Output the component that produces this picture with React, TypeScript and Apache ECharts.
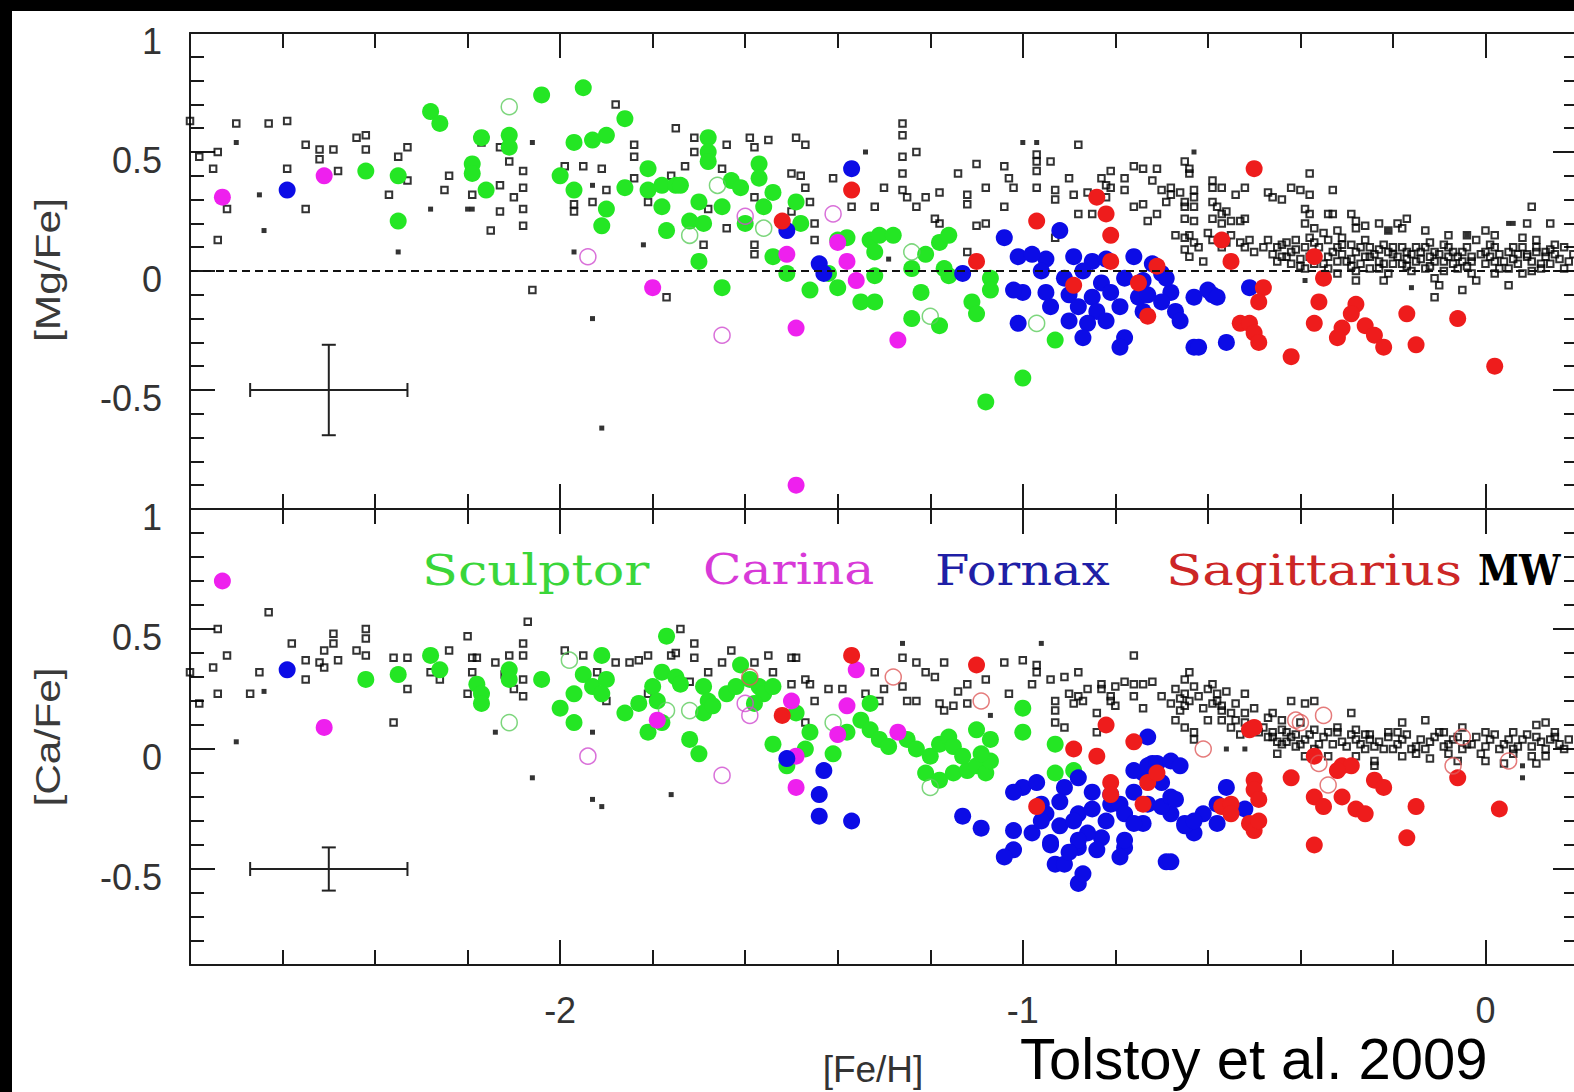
import React, { useEffect, useRef } from "react";
import * as echarts from "echarts";

// ---------- axis ranges & tick labels ----------
const X_MIN = -2.8;
const X_MAX = 0.2;
const MG_MIN = -1;
const MG_MAX = 1;
const CA_MIN = -0.9;
const CA_MAX = 1;
const xTickLabels = [-2, -1, 0];
const yTickLabels = [1, 0.5, 0, -0.5];
const yMajorTicks = [0.5, 0, -0.5];

// ---------- [Mg/Fe] panel ----------
const mgSculptor = [
  [-2.42, 0.42], [-2.35, 0.4], [-2.35, 0.21], [-2.28, 0.67], [-2.26, 0.62], [-2.04, 0.74], [-1.95, 0.77],
  [-2.17, 0.56], [-2.11, 0.57], [-2.11, 0.52], [-2.19, 0.45], [-2.19, 0.41], [-2.16, 0.34], [-2.0, 0.4],
  [-1.97, 0.34], [-1.97, 0.54], [-1.93, 0.55], [-1.9, 0.57], [-1.86, 0.64], [-1.9, 0.26], [-1.91, 0.19],
  [-1.86, 0.35], [-1.81, 0.43], [-1.81, 0.34], [-1.78, 0.36], [-1.75, 0.36], [-1.74, 0.36], [-1.78, 0.27],
  [-1.77, 0.17], [-1.68, 0.56], [-1.68, 0.5], [-1.68, 0.46], [-1.7, 0.29], [-1.72, 0.21], [-1.69, 0.2],
  [-1.7, 0.04], [-1.65, 0.27], [-1.65, -0.07], [-1.63, 0.38], [-1.61, 0.35], [-1.57, 0.45], [-1.57, 0.39],
  [-1.54, 0.33], [-1.49, 0.29], [-1.48, 0.2], [-1.54, 0.06], [-1.51, -0.01], [-1.46, -0.08], [-1.4, 0.13],
  [-1.38, 0.14], [-1.4, -0.07], [-1.42, -0.01], [-1.35, -0.13], [-1.32, -0.13], [-1.33, 0.13], [-1.31, 0.15],
  [-1.28, 0.15], [-1.32, 0.08], [-1.32, -0.02], [-1.24, 0.01], [-1.21, 0.07], [-1.22, -0.09], [-1.24, -0.2],
  [-1.18, -0.23], [-1.18, 0.12], [-1.16, 0.15], [-1.17, 0.01], [-1.16, -0.02], [-1.11, -0.13], [-1.1, -0.18],
  [-1.07, -0.03], [-1.07, -0.08], [-1.0, -0.45], [-1.08, -0.55], [-0.93, -0.29], [-1.6, 0.2], [-1.56, 0.27],
];
const mgSculptorOpen = [[-2.11, 0.69], [-1.66, 0.36], [-1.72, 0.15], [-1.56, 0.18], [-1.24, 0.08], [-1.2, -0.19], [-0.97, -0.22]];
const mgCarina = [[-2.73, 0.31], [-2.51, 0.4], [-1.8, -0.07], [-1.51, 0.07], [-1.4, 0.12], [-1.38, 0.04], [-1.36, -0.04], [-1.49, -0.24], [-1.27, -0.29], [-1.49, -0.9]];
const mgCarinaOpen = [[-1.94, 0.06], [-1.6, 0.23], [-1.41, 0.24], [-1.65, -0.27]];
const mgFornax = [
  [-2.59, 0.34], [-1.37, 0.43], [-1.51, 0.17], [-1.44, 0.03], [-1.43, -0.01], [-1.13, -0.01], [-1.04, 0.14],
  [-0.92, 0.17], [-1.01, 0.06], [-0.95, 0.05], [-0.89, 0.06], [-0.85, 0.04], [-0.82, 0.05], [-0.76, 0.06],
  [-0.72, 0.03], [-0.96, 0.0], [-0.91, -0.03], [-0.87, 0.0], [-0.83, -0.05], [-0.78, -0.03], [-0.74, -0.04],
  [-0.7, -0.01], [-1.0, -0.09], [-0.95, -0.09], [-0.9, -0.1], [-0.85, -0.11], [-0.81, -0.09], [-0.75, -0.11],
  [-0.68, -0.09], [-0.63, -0.11], [-0.59, -0.1], [-0.94, -0.15], [-0.88, -0.15], [-0.84, -0.17], [-0.79, -0.15],
  [-0.74, -0.17], [-0.9, -0.21], [-0.86, -0.22], [-0.82, -0.21], [-1.01, -0.22], [-0.78, -0.28], [-0.87, -0.28],
  [-0.79, -0.32], [-0.63, -0.32], [-0.56, -0.3], [-0.51, -0.07], [-1.02, -0.08], [-0.98, 0.07], [-0.67, -0.17],
  [-0.66, -0.21], [-0.7, -0.13], [-0.73, -0.1], [-0.69, -0.03], [-0.6, -0.08], [-0.58, -0.11], [-0.62, -0.32],
];
const mgSagittarius = [
  [-1.37, 0.34], [-1.52, 0.21], [-1.1, 0.04], [-0.97, 0.21], [-0.84, 0.31], [-0.82, 0.24], [-0.81, 0.15],
  [-0.81, 0.04], [-0.89, -0.06], [-0.5, 0.43], [-0.57, 0.13], [-0.55, 0.04], [-0.71, 0.02], [-0.75, -0.05],
  [-0.73, -0.19], [-0.48, -0.07], [-0.49, -0.13], [-0.53, -0.22], [-0.51, -0.22], [-0.5, -0.26], [-0.49, -0.3],
  [-0.42, -0.36], [-0.37, 0.06], [-0.35, -0.03], [-0.36, -0.13], [-0.37, -0.22], [-0.28, -0.14], [-0.29, -0.18],
  [-0.31, -0.24], [-0.32, -0.28], [-0.26, -0.23], [-0.24, -0.27], [-0.22, -0.32], [-0.17, -0.18], [-0.15, -0.31],
  [-0.06, -0.2], [0.02, -0.4],
];
const mgMW = [
  [-2.7, 0.62], [-2.63, 0.62], [-2.59, 0.63], [-2.8, 0.63], [-2.74, 0.5], [-2.78, 0.48], [-2.75, 0.43], [-2.72, 0.26],
  [-2.74, 0.13], [-2.55, 0.53], [-2.59, 0.43], [-2.55, 0.26], [-2.52, 0.51], [-2.49, 0.51], [-2.52, 0.47], [-2.48, 0.42],
  [-2.44, 0.56], [-2.42, 0.57], [-2.42, 0.51], [-2.37, 0.32], [-2.35, 0.48], [-2.33, 0.52], [-2.33, 0.38], [-2.25, 0.34],
  [-2.24, 0.4], [-2.19, 0.32], [-2.17, 0.54], [-2.13, 0.52], [-2.11, 0.46], [-2.13, 0.36], [-2.08, 0.42], [-2.08, 0.35],
  [-2.1, 0.31], [-2.08, 0.26], [-2.13, 0.25], [-2.15, 0.17], [-2.08, 0.19], [-2.06, -0.08], [-1.99, 0.44], [-1.95, 0.44],
  [-1.91, 0.43], [-1.9, 0.34], [-1.93, 0.29], [-1.97, 0.28], [-1.97, 0.25], [-1.88, 0.7], [-1.84, 0.53], [-1.84, 0.48],
  [-1.84, 0.39], [-1.81, 0.29],
  [-1.75, 0.6], [-1.71, 0.56], [-1.71, 0.5], [-1.64, 0.53], [-1.59, 0.56], [-1.58, 0.52], [-1.55, 0.55], [-1.49, 0.56],
  [-1.47, 0.53], [-1.65, 0.43], [-1.73, 0.44], [-1.76, 0.4], [-1.68, 0.26], [-1.64, 0.18], [-1.69, 0.11], [-1.58, 0.11],
  [-1.58, 0.07], [-1.58, 0.31], [-1.5, 0.41], [-1.48, 0.4], [-1.47, 0.35], [-1.5, 0.25], [-1.45, 0.2], [-1.45, 0.13],
  [-1.41, 0.39], [-1.46, 0.29], [-1.37, 0.27], [-1.32, 0.27], [-1.3, 0.35], [-1.26, 0.62], [-1.26, 0.57], [-1.26, 0.48],
  [-1.26, 0.41], [-1.26, 0.34], [-1.23, 0.5], [-1.25, 0.31], [-1.23, 0.27], [-1.21, 0.31], [-1.18, 0.33], [-1.19, 0.22],
  [-1.18, 0.2], [-1.14, 0.41], [-1.12, 0.32], [-1.12, 0.28], [-1.1, 0.45], [-1.1, 0.19], [-1.08, 0.2], [-1.08, 0.35],
  [-1.12, 0.08], [-1.04, 0.44], [-1.03, 0.39], [-1.02, 0.35], [-1.04, 0.27], [-0.97, 0.49], [-0.97, 0.46], [-0.94, 0.46],
  [-0.88, 0.53], [-0.97, 0.42], [-0.97, 0.35], [-0.93, 0.34], [-0.93, 0.3], [-0.9, 0.39], [-0.88, 0.24], [-0.89, 0.32],
  [-0.86, 0.33], [-0.83, 0.39], [-0.81, 0.42], [-0.85, 0.24], [-0.93, 0.14], [-0.81, 0.35], [-0.82, 0.31], [-1.77, -0.11],
  [-0.65, 0.46], [-0.64, 0.43], [-0.64, 0.41], [-0.82, 0.36], [-0.78, 0.39], [-0.78, 0.34], [-0.76, 0.44],
  [-0.74, 0.43], [-0.71, 0.43], [-0.72, 0.38], [-0.76, 0.27], [-0.74, 0.28], [-0.71, 0.24], [-0.73, 0.21], [-0.7, 0.34],
  [-0.68, 0.35], [-0.68, 0.32], [-0.69, 0.29], [-0.66, 0.33], [-0.65, 0.29], [-0.65, 0.27], [-0.63, 0.34], [-0.63, 0.31],
  [-0.63, 0.27], [-0.65, 0.22], [-0.63, 0.21], [-0.59, 0.38], [-0.59, 0.35], [-0.57, 0.35], [-0.59, 0.29], [-0.58, 0.27],
  [-0.59, 0.22], [-0.57, 0.24], [-0.56, 0.25], [-0.55, 0.21], [-0.53, 0.21], [-0.52, 0.22], [-0.57, 0.2], [-0.54, 0.32],
  [-0.52, 0.35], [-0.47, 0.33], [-0.46, 0.31], [-0.44, 0.3], [-0.42, 0.35], [-0.4, 0.34], [-0.38, 0.41], [-0.38, 0.32],
  [-0.33, 0.34], [-0.39, 0.26], [-0.38, 0.24], [-0.34, 0.24], [-0.33, 0.24], [-0.29, 0.24], [-0.28, 0.21], [-0.26, 0.19],
  [-0.23, 0.2], [-0.19, 0.2], [-0.17, 0.22], [0.1, 0.27], [0.14, 0.2], [0.09, 0.2],
  [-0.67, 0.15], [-0.65, 0.14], [-0.64, 0.15], [-0.63, 0.12], [-0.65, 0.09], [-0.64, 0.06], [-0.62, 0.1], [-0.61, 0.04],
  [-0.6, 0.16], [-0.59, 0.13], [-0.57, 0.1], [-0.56, 0.12], [-0.55, 0.15], [-0.53, 0.12], [-0.52, 0.1], [-0.51, 0.13],
  [-0.5, 0.08], [-0.48, 0.1],
  [-0.47, 0.13], [-0.45, 0.1], [-0.44, 0.11], [-0.42, 0.08], [-0.41, 0.13], [-0.39, 0.1], [-0.38, 0.14], [-0.37, 0.12],
  [-0.35, 0.16], [-0.34, 0.13], [-0.32, 0.1], [-0.31, 0.14], [-0.29, 0.11], [-0.28, 0.08], [-0.26, 0.13], [-0.25, 0.1],
  [-0.24, 0.07], [-0.22, 0.11], [-0.21, 0.08], [-0.19, 0.06], [-0.18, 0.1], [-0.16, 0.07], [-0.15, 0.04], [-0.13, 0.1],
  [-0.12, 0.06], [-0.11, 0.08], [-0.09, 0.04], [-0.08, 0.1], [-0.06, 0.06], [-0.05, 0.08], [-0.03, 0.04], [-0.02, 0.13],
  [0.0, 0.08], [0.01, 0.06], [0.02, 0.1], [0.04, 0.04], [0.05, 0.08], [0.07, 0.07], [0.08, 0.1], [0.1, 0.04],
  [0.11, 0.08], [0.13, 0.06], [0.14, 0.03], [0.15, 0.07], [0.18, 0.04],
  [-0.45, 0.04], [-0.42, 0.03], [-0.39, 0.01], [-0.37, 0.03], [-0.34, 0.01], [-0.32, 0.04], [-0.29, 0.02], [-0.28, 0.0],
  [-0.25, 0.01], [-0.22, 0.03], [-0.21, -0.01], [-0.18, 0.03], [-0.16, 0.0], [-0.13, 0.01], [-0.11, -0.03], [-0.09, 0.0],
  [-0.06, 0.01], [-0.03, -0.01], [-0.02, -0.04], [0.0, 0.03], [0.02, -0.01], [0.05, 0.01], [0.08, -0.01], [0.1, 0.0],
  [0.12, 0.01],
  [-0.32, -0.01], [-0.28, -0.04], [-0.22, -0.04], [-0.1, -0.06], [-0.05, -0.08], [0.05, -0.06], [-0.11, -0.11],
  [-0.39, 0.2], [-0.37, 0.18], [-0.32, 0.17], [-0.28, 0.18], [-0.21, 0.17], [-0.18, 0.18], [-0.13, 0.17], [-0.08, 0.15],
  [-0.04, 0.15], [0.0, 0.17], [0.02, 0.15], [0.08, 0.14], [0.11, 0.13], [0.15, 0.11],
  [-0.46, 0.07], [-0.43, 0.06], [-0.4, 0.05], [-0.37, 0.07], [-0.34, 0.06], [-0.31, 0.07], [-0.29, 0.05], [-0.26, 0.06],
  [-0.23, 0.04], [-0.2, 0.07], [-0.17, 0.05], [-0.14, 0.08], [-0.11, 0.04], [-0.08, 0.06], [-0.05, 0.04], [-0.03, 0.06],
  [0.02, 0.04], [0.06, 0.05], [0.09, 0.07], [0.13, 0.08], [0.17, 0.1],
  [-0.44, 0.06], [-0.43, 0.12], [-0.41, 0.09], [-0.4, 0.02], [-0.38, 0.06], [-0.36, 0.1], [-0.35, 0.03], [-0.33, 0.08],
  [-0.31, 0.11], [-0.3, 0.04], [-0.27, 0.1], [-0.27, 0.03], [-0.25, 0.06], [-0.23, 0.09], [-0.23, 0.01], [-0.2, 0.1],
  [-0.2, 0.03], [-0.17, 0.08], [-0.17, 0.02], [-0.15, 0.1], [-0.14, 0.05], [-0.12, 0.12], [-0.12, 0.02], [-0.1, 0.07],
  [-0.09, 0.11], [-0.07, 0.03], [-0.07, 0.08], [-0.04, 0.1], [-0.04, 0.02], [-0.01, 0.07], [0.01, 0.11], [0.03, 0.07],
  [0.03, 0.01], [0.06, 0.1], [0.07, 0.03], [0.09, 0.06], [0.11, 0.1], [0.12, 0.03], [0.14, 0.09], [0.16, 0.05],
  [0.17, 0.01], [0.19, 0.07],
];
const mgMWFilled = [
  [-2.7, 0.54], [-2.65, 0.32], [-2.64, 0.17], [-2.35, 0.08], [-2.28, 0.26], [-2.2, 0.26], [-2.19, 0.26], [-2.06, 0.54],
  [-1.93, 0.36], [-1.97, 0.08], [-1.82, 0.11], [-1.93, -0.2], [-1.91, -0.66], [-1.29, 0.05], [-1.0, 0.54], [-0.97, 0.54],
  [-1.34, 0.5], [-0.16, -0.07], [-0.21, 0.17], [-0.04, 0.15], [0.05, 0.2], [0.06, 0.2], [-0.39, -0.04], [-0.63, 0.5],
];
const mgErrorBar = [[-2.5, -0.5, 0.17, 0.19]];

// ---------- [Ca/Fe] panel ----------
const caSculptor = [
  [-2.42, 0.29], [-2.35, 0.31], [-2.28, 0.39], [-2.26, 0.33], [-2.18, 0.27], [-2.17, 0.23], [-2.17, 0.19],
  [-2.11, 0.33], [-2.11, 0.29], [-2.04, 0.29], [-2.0, 0.17], [-1.97, 0.23], [-1.97, 0.11], [-1.95, 0.31],
  [-1.93, 0.26], [-1.91, 0.39], [-1.9, 0.29], [-1.91, 0.23], [-1.86, 0.15], [-1.83, 0.19], [-1.81, 0.07],
  [-1.8, 0.26], [-1.77, 0.47], [-1.78, 0.32], [-1.75, 0.3], [-1.74, 0.27], [-1.79, 0.2], [-1.78, 0.11],
  [-1.72, 0.04], [-1.7, -0.02], [-1.69, 0.26], [-1.68, 0.2], [-1.69, 0.15], [-1.67, 0.18], [-1.64, 0.23],
  [-1.62, 0.26], [-1.61, 0.35], [-1.59, 0.29], [-1.57, 0.26], [-1.56, 0.23], [-1.54, 0.26], [-1.58, 0.19],
  [-1.54, 0.02], [-1.51, -0.07], [-1.49, 0.15], [-1.46, 0.07], [-1.47, 0.0], [-1.41, -0.02], [-1.35, 0.12],
  [-1.33, 0.08], [-1.31, 0.04], [-1.29, 0.01], [-1.33, 0.19], [-1.38, 0.07], [-1.25, 0.04], [-1.23, 0.0],
  [-1.2, -0.03], [-1.18, 0.02], [-1.16, 0.05], [-1.15, 0.01], [-1.21, -0.1], [-1.18, -0.13], [-1.15, -0.1],
  [-1.12, -0.09], [-1.1, -0.07], [-1.08, -0.1], [-1.07, -0.05], [-1.13, -0.03], [-1.1, 0.08], [-1.07, 0.04],
  [-1.09, -0.02], [-1.0, 0.17], [-1.0, 0.07], [-0.93, 0.02], [-0.93, -0.1], [-0.89, -0.09],
];
const caSculptorOpen = [[-2.11, 0.11], [-1.98, 0.37], [-1.77, 0.16], [-1.72, 0.16], [-1.41, 0.11], [-1.2, -0.16]];
const caCarina = [[-2.73, 0.7], [-2.51, 0.09], [-1.79, 0.12], [-1.36, 0.33], [-1.5, 0.2], [-1.38, 0.18], [-1.4, 0.06], [-1.27, 0.07], [-1.49, -0.16], [-1.49, -0.03]];
const caCarinaOpen = [[-1.94, -0.03], [-1.6, 0.19], [-1.59, 0.14], [-1.65, -0.11]];
const caFornax = [
  [-2.59, 0.33], [-1.51, -0.04], [-1.43, -0.09], [-1.44, -0.19], [-1.44, -0.28], [-1.37, -0.3], [-1.13, -0.28],
  [-1.09, -0.33], [-1.02, -0.34], [-1.02, -0.42], [-1.04, -0.45], [-0.93, -0.48], [-0.88, -0.56], [-0.88, -0.12],
  [-1.0, -0.16], [-0.97, -0.14], [-1.02, -0.18], [-0.96, -0.23], [-0.91, -0.16], [-0.88, -0.27], [-0.85, -0.18],
  [-0.81, -0.23], [-0.76, -0.18], [-0.74, -0.1], [-0.72, -0.06], [-0.7, -0.14], [-0.68, -0.27], [-0.65, -0.31],
  [-0.61, -0.27], [-0.58, -0.23], [-0.63, -0.35], [-0.98, -0.35], [-0.94, -0.39], [-0.88, -0.41], [-0.83, -0.37],
  [-0.78, -0.41], [-0.74, -0.31], [-0.91, -0.48], [-0.87, -0.52], [-0.69, -0.47], [-0.76, -0.09], [-0.73, -0.07],
  [-0.71, -0.06], [-0.68, -0.05], [-0.66, -0.07], [-0.81, -0.19], [-0.79, -0.23], [-0.78, -0.27], [-0.76, -0.31],
  [-0.78, -0.38], [-0.79, -0.45], [-0.73, -0.23], [-0.7, -0.24], [-0.68, -0.2], [-0.67, -0.21], [-0.65, -0.32],
  [-0.63, -0.3], [-0.58, -0.31], [-0.56, -0.16], [-0.52, -0.25], [-0.68, -0.47], [-0.73, 0.05], [-0.95, -0.27],
  [-0.92, -0.32], [-0.89, -0.3], [-0.86, -0.35], [-0.88, -0.38], [-0.84, -0.42], [-0.82, -0.3], [-0.9, -0.43],
  [-0.94, -0.4], [-0.96, -0.3], [-0.85, -0.25], [-0.92, -0.22],
];
const caSagittarius = [
  [-1.37, 0.39], [-1.52, 0.14], [-1.1, 0.35], [-0.89, 0.0], [-0.84, -0.03], [-0.82, 0.1], [-0.81, -0.14],
  [-0.81, -0.19], [-0.97, -0.24], [-0.76, 0.03], [-0.73, -0.14], [-0.71, -0.1], [-0.74, -0.23], [-0.57, -0.24],
  [-0.55, -0.23], [-0.55, -0.27], [-0.5, -0.13], [-0.5, -0.17], [-0.49, -0.21], [-0.51, -0.31], [-0.5, -0.34],
  [-0.49, -0.3], [-0.51, 0.08], [-0.5, 0.09], [-0.42, -0.12], [-0.37, -0.03], [-0.31, -0.07], [-0.29, -0.07],
  [-0.32, -0.09], [-0.37, -0.2], [-0.35, -0.24], [-0.31, -0.2], [-0.28, -0.25], [-0.26, -0.27], [-0.24, -0.13],
  [-0.22, -0.16], [-0.15, -0.24], [-0.17, -0.37], [-0.37, -0.4], [-0.06, -0.12], [0.03, -0.25],
];
const caSagittariusOpen = [
  [-1.59, 0.3], [-1.28, 0.3], [-1.09, 0.2], [-0.61, 0.0], [-0.35, 0.14], [-0.36, -0.06], [-0.34, -0.15],
  [-0.05, 0.05], [-0.07, -0.07], [0.05, -0.05], [-0.4, 0.11], [-0.41, 0.12],
];
const caMW = [
  [-2.63, 0.57], [-2.74, 0.5], [-2.72, 0.39], [-2.75, 0.34], [-2.8, 0.32], [-2.65, 0.32], [-2.74, 0.23], [-2.67, 0.23],
  [-2.78, 0.19], [-2.58, 0.44], [-2.55, 0.37], [-2.55, 0.29], [-2.51, 0.41], [-2.49, 0.48], [-2.49, 0.44], [-2.52, 0.36],
  [-2.48, 0.37], [-2.51, 0.34], [-2.44, 0.41], [-2.42, 0.5], [-2.42, 0.46], [-2.42, 0.39], [-2.36, 0.38], [-2.33, 0.38],
  [-2.33, 0.25], [-2.36, 0.11], [-2.28, 0.32], [-2.26, 0.29], [-2.24, 0.41], [-2.2, 0.47], [-2.19, 0.38], [-2.18, 0.38],
  [-2.19, 0.32], [-2.2, 0.23], [-2.14, 0.36], [-2.12, 0.31], [-2.11, 0.39], [-2.08, 0.39], [-2.08, 0.44], [-2.08, 0.29],
  [-2.1, 0.25], [-2.08, 0.22], [-2.07, 0.53], [-1.99, 0.41], [-1.95, 0.39], [-1.92, 0.32], [-1.9, 0.2], [-1.88, 0.36],
  [-1.85, 0.36], [-1.83, 0.37], [-1.81, 0.39], [-1.81, 0.23],
  [-1.74, 0.5], [-1.76, 0.39], [-1.75, 0.4], [-1.71, 0.44], [-1.71, 0.38], [-1.72, 0.28], [-1.65, 0.36], [-1.63, 0.41],
  [-1.68, 0.32], [-1.58, 0.36], [-1.55, 0.39], [-1.54, 0.32], [-1.5, 0.38], [-1.49, 0.38], [-1.5, 0.27], [-1.47, 0.29],
  [-1.46, 0.27], [-1.45, 0.2], [-1.47, 0.11], [-1.42, 0.25], [-1.39, 0.25], [-1.32, 0.32], [-1.34, 0.23], [-1.31, 0.2],
  [-1.3, 0.25], [-1.26, 0.38], [-1.23, 0.36], [-1.26, 0.26], [-1.25, 0.2], [-1.23, 0.2], [-1.21, 0.32], [-1.19, 0.3],
  [-1.17, 0.36], [-1.18, 0.19], [-1.17, 0.16], [-1.15, 0.18], [-1.12, 0.19], [-1.14, 0.24], [-1.12, 0.27], [-1.08, 0.29],
  [-1.04, 0.36], [-1.0, 0.37], [-1.03, 0.23], [-0.97, 0.35], [-0.97, 0.32], [-0.98, 0.27], [-0.94, 0.29], [-0.91, 0.3],
  [-0.88, 0.32], [-0.93, 0.2], [-0.9, 0.23], [-0.88, 0.22], [-0.86, 0.25], [-0.83, 0.25], [-0.81, 0.22], [-0.93, 0.16],
  [-0.93, 0.11], [-0.91, 0.09], [-0.89, 0.19], [-0.87, 0.2], [-0.84, 0.15], [-0.81, 0.2], [-0.84, 0.07],
  [-0.76, 0.39], [-0.83, 0.27], [-0.8, 0.26], [-0.78, 0.28], [-0.76, 0.27], [-0.74, 0.27], [-0.72, 0.28], [-0.76, 0.22],
  [-0.7, 0.22], [-0.8, 0.18], [-0.74, 0.17], [-0.65, 0.29], [-0.64, 0.32], [-0.63, 0.26], [-0.65, 0.23], [-0.64, 0.2],
  [-0.59, 0.27], [-0.58, 0.23], [-0.59, 0.19], [-0.57, 0.16], [-0.57, 0.12], [-0.68, 0.19], [-0.66, 0.16], [-0.67, 0.12],
  [-0.65, 0.09], [-0.63, 0.07], [-0.63, 0.04], [-0.55, 0.15], [-0.54, 0.12], [-0.52, 0.23], [-0.52, 0.15], [-0.48, 0.09],
  [-0.46, 0.15], [-0.44, 0.12], [-0.42, 0.2], [-0.39, 0.19], [-0.37, 0.2], [-0.29, 0.15],
  [-0.67, 0.25], [-0.66, 0.21], [-0.65, 0.18], [-0.62, 0.22], [-0.61, 0.17], [-0.6, 0.25], [-0.6, 0.12], [-0.58, 0.2],
  [-0.57, 0.18], [-0.56, 0.24], [-0.55, 0.09], [-0.54, 0.19], [-0.53, 0.06], [-0.52, 0.11], [-0.5, 0.17], [-0.49, 0.07],
  [-0.47, 0.13], [-0.46, 0.05], [-0.44, 0.08], [-0.43, 0.03], [-0.41, 0.06], [-0.4, 0.11],
  [-0.47, 0.05], [-0.44, 0.02], [-0.42, 0.05], [-0.41, 0.01], [-0.39, 0.04], [-0.37, 0.0], [-0.35, 0.05], [-0.33, 0.02],
  [-0.32, 0.07], [-0.3, 0.01], [-0.28, 0.04], [-0.26, 0.0], [-0.25, 0.04], [-0.24, 0.01], [-0.21, 0.05], [-0.2, 0.0],
  [-0.18, 0.04], [-0.16, 0.0], [-0.14, 0.04], [-0.13, 0.0], [-0.11, 0.05], [-0.09, 0.01], [-0.07, 0.04], [-0.05, 0.0],
  [-0.03, 0.02], [-0.01, -0.02], [0.01, 0.04], [0.03, 0.0], [0.04, 0.02], [0.06, -0.02], [0.08, 0.04], [0.1, 0.01],
  [0.11, 0.05], [0.13, 0.0], [0.14, 0.04], [0.16, 0.02],
  [-0.45, -0.02], [-0.39, -0.03], [-0.34, -0.03], [-0.28, -0.03], [-0.24, -0.05], [-0.18, -0.03], [-0.12, -0.04],
  [-0.06, -0.05], [0.0, -0.05], [0.04, -0.06], [0.11, -0.06], [0.13, -0.03], [-0.24, -0.07],
  [-0.18, 0.11], [-0.13, 0.12], [-0.05, 0.09], [0.11, 0.1], [0.13, 0.11], [-0.32, 0.09], [-0.28, 0.08], [-0.21, 0.07],
  [-0.46, 0.07], [-0.37, 0.08], [-0.26, 0.06], [-0.19, 0.07], [-0.09, 0.07], [0.0, 0.07], [0.06, 0.07], [0.15, 0.07],
  [-0.45, 0.03], [-0.43, 0.07], [-0.4, 0.02], [-0.38, 0.06], [-0.36, 0.02], [-0.34, 0.07], [-0.31, 0.03], [-0.29, 0.06],
  [-0.27, 0.02], [-0.25, 0.06], [-0.23, 0.03], [-0.22, 0.0], [-0.19, 0.02], [-0.17, 0.06], [-0.15, 0.01], [-0.12, 0.03],
  [-0.1, 0.07], [-0.08, 0.02], [-0.06, 0.05], [-0.04, 0.02], [-0.02, 0.05], [0.0, 0.01], [0.02, 0.06], [0.05, 0.04],
  [0.07, 0.01], [0.09, 0.06], [0.12, 0.03], [0.15, 0.05], [0.17, 0.0], [0.18, 0.04], [-0.15, -0.02], [-0.08, -0.02],
  [0.06, 0.0], [0.1, -0.03],
];
const caMWFilled = [
  [-2.7, 0.03], [-2.64, 0.24], [-2.14, 0.07], [-2.06, -0.12], [-1.93, -0.21], [-1.91, -0.24], [-1.93, 0.07],
  [-1.76, -0.19], [-0.52, 0.0], [-0.56, 0.0], [-1.07, 0.14], [0.08, -0.07], [0.08, -0.12], [-1.26, 0.44], [-0.96, 0.44],
];
const caErrorBar = [[-2.5, -0.5, 0.17, 0.09]];

// ---------- colours / legend ----------
const C_SCL = "#24e624";
const C_CAR = "#ee20ee";
const C_FOR = "#0c0ce6";
const C_SAG = "#ee1c1c";
const legendItems = [
  { name: "Sculptor", color: "#3ad63a", x: 422, sx: 1.25, bold: false },
  { name: "Carina", color: "#d83ad8", x: 703, sx: 1.2, bold: false },
  { name: "Fornax", color: "#1f1fa6", x: 935, sx: 1.18, bold: false },
  { name: "Sagittarius", color: "#cc2626", x: 1166, sx: 1.26, bold: false },
  { name: "MW", color: "#000000", x: 1478, sx: 0.88, bold: true },
];

function stepValues(a: number, b: number, step: number) {
  const out: number[] = [];
  const n = Math.round((b - a) / step);
  for (let k = 1; k < n; k++) out.push(Math.round((a + k * step) * 10) / 10);
  return out;
}

const AXIS_LINE = { color: "#1a1a1a", width: 2 };
const LABEL_FONT = "Liberation Sans";

function xAx(gridIndex: number, position: string, ticks: number[], len: number, showLine: boolean, labels?: number[]) {
  return {
    type: "value", gridIndex, position, min: X_MIN, max: X_MAX,
    axisLine: { show: showLine, onZero: false, lineStyle: AXIS_LINE },
    axisTick: { show: true, inside: true, length: len, customValues: ticks, lineStyle: AXIS_LINE },
    axisLabel: labels
      ? { show: true, customValues: labels, margin: 27, fontSize: 36, fontFamily: LABEL_FONT, color: "#333" }
      : { show: false },
    splitLine: { show: false },
  };
}
function yAx(gridIndex: number, position: string, min: number, max: number, ticks: number[], len: number, showLine: boolean, labels?: number[]) {
  return {
    type: "value", gridIndex, position, min, max,
    axisLine: { show: showLine, onZero: false, lineStyle: AXIS_LINE },
    axisTick: { show: true, inside: true, length: len, customValues: ticks, lineStyle: AXIS_LINE },
    axisLabel: labels
      ? { show: true, customValues: labels, margin: 28, fontSize: 36, fontFamily: LABEL_FONT, color: "#333", verticalAlign: "top", lineHeight: 16 }
      : { show: false },
    splitLine: { show: false },
  };
}

function errRender(params: any, api: any) {
  const x = api.value(0), y = api.value(1), ex = api.value(2), ey = api.value(3);
  const l = api.coord([x - ex, y]), r = api.coord([x + ex, y]);
  const t = api.coord([x, y + ey]), b = api.coord([x, y - ey]);
  const st = { stroke: "#222", lineWidth: 2 };
  const cap = 7;
  const ln = (x1: number, y1: number, x2: number, y2: number) => ({ type: "line", shape: { x1, y1, x2, y2 }, style: st });
  return {
    type: "group",
    children: [
      ln(l[0], l[1], r[0], r[1]),
      ln(t[0], t[1], b[0], b[1]),
      ln(l[0], l[1] - cap, l[0], l[1] + cap),
      ln(r[0], r[1] - cap, r[0], r[1] + cap),
      ln(t[0] - cap, t[1], t[0] + cap, t[1]),
      ln(b[0] - cap, b[1], b[0] + cap, b[1]),
    ],
  };
}

function panelSeries(p: number, d: any) {
  const xi = p * 4, yi = p * 4;
  const base = { type: "scatter", xAxisIndex: xi, yAxisIndex: yi, silent: true };
  const filled = (data: number[][], color: string) => ({ ...base, data, symbol: "circle", symbolSize: 17, itemStyle: { color, opacity: 1 } });
  const open = (data: number[][], color: string) => ({ ...base, data, symbol: "circle", symbolSize: 16, itemStyle: { color: "rgba(0,0,0,0)", borderColor: color, borderWidth: 1.5 } });
  const out: any[] = [];
  if (d.zero) {
    out.push({ type: "line", xAxisIndex: xi, yAxisIndex: yi, data: [[X_MIN, 0], [X_MAX, 0]], showSymbol: false, silent: true, lineStyle: { color: "#111", width: 2, type: [8, 5] } });
  }
  out.push({ ...base, data: d.mw, symbol: "rect", symbolSize: 6.5, itemStyle: { color: "rgba(0,0,0,0)", borderColor: "#000", borderWidth: 2 } });
  out.push({ ...base, data: d.mwFilled, symbol: "rect", symbolSize: 5, itemStyle: { color: "#000" } });
  out.push(filled(d.scl, C_SCL));
  out.push(open(d.sclOpen, "#5ccc5c"));
  out.push(filled(d.car, C_CAR));
  out.push(open(d.carOpen, "#d04cd0"));
  out.push(filled(d.forn, C_FOR));
  out.push(filled(d.sag, C_SAG));
  if (d.sagOpen) out.push(open(d.sagOpen, "#de5a5a"));
  out.push({ type: "custom", xAxisIndex: xi, yAxisIndex: yi, data: d.err, renderItem: errRender, silent: true, clip: false });
  return out;
}

export default function App() {
  const ref = useRef<HTMLDivElement>(null);
  useEffect(() => {
    if (!ref.current) return;
    const chart = echarts.init(ref.current, undefined, { renderer: "svg" });
    const xMinor = stepValues(X_MIN, X_MAX, 0.2);
    const mgMinor = stepValues(MG_MIN, MG_MAX, 0.1);
    const caMinor = stepValues(CA_MIN, CA_MAX, 0.1);

    const centered = { align: "center", verticalAlign: "middle", textAlign: "center", textVerticalAlign: "middle" };
    const graphic: any[] = [
      ...legendItems.map((it) => ({
        type: "text", x: it.x, y: 570, z: 10, scaleX: it.sx,
        style: {
          text: it.name, fill: it.color,
          font: `${it.bold ? "bold " : ""}42px "DejaVu Serif"`,
          align: "left", verticalAlign: "middle", textAlign: "left", textVerticalAlign: "middle",
        },
      })),
      { type: "text", x: 47, y: 270, rotation: Math.PI / 2, scaleX: 1.18, style: { text: "[Mg/Fe]", fill: "#3a3a3a", font: '36px "Liberation Sans"', ...centered } },
      { type: "text", x: 47, y: 737, rotation: Math.PI / 2, scaleX: 1.18, style: { text: "[Ca/Fe]", fill: "#3a3a3a", font: '36px "Liberation Sans"', ...centered } },
      { type: "text", x: 873, y: 1069, style: { text: "[Fe/H]", fill: "#333", font: '37px "Liberation Sans"', ...centered } },
      { type: "text", x: 1020, y: 1058, style: { text: "Tolstoy et al. 2009", fill: "#000", font: '58px "Liberation Sans"', align: "left", verticalAlign: "middle", textAlign: "left", textVerticalAlign: "middle" } },
      { type: "rect", z: 20, shape: { x: 0, y: 0, width: 1600, height: 11 }, style: { fill: "#000" } },
      { type: "rect", z: 20, shape: { x: 0, y: 0, width: 12, height: 1092 }, style: { fill: "#000" } },
    ];

    const option: any = {
      animation: false,
      backgroundColor: "#ffffff",
      grid: [
        { left: 190, top: 33, width: 1388, height: 476 },
        { left: 190, top: 509, width: 1388, height: 456 },
      ],
      xAxis: [
        xAx(0, "bottom", xMinor, 15, true),
        xAx(0, "bottom", xTickLabels, 25, false),
        xAx(0, "top", xMinor, 15, true),
        xAx(0, "top", xTickLabels, 25, false),
        xAx(1, "bottom", xMinor, 15, true, xTickLabels),
        xAx(1, "bottom", xTickLabels, 25, false),
        xAx(1, "top", xMinor, 15, true),
        xAx(1, "top", xTickLabels, 25, false),
      ],
      yAxis: [
        yAx(0, "left", MG_MIN, MG_MAX, mgMinor, 14, true, yTickLabels),
        yAx(0, "left", MG_MIN, MG_MAX, yMajorTicks, 25, false),
        yAx(0, "right", MG_MIN, MG_MAX, mgMinor, 14, true),
        yAx(0, "right", MG_MIN, MG_MAX, yMajorTicks, 25, false),
        yAx(1, "left", CA_MIN, CA_MAX, caMinor, 14, true, yTickLabels),
        yAx(1, "left", CA_MIN, CA_MAX, yMajorTicks, 25, false),
        yAx(1, "right", CA_MIN, CA_MAX, caMinor, 14, true),
        yAx(1, "right", CA_MIN, CA_MAX, yMajorTicks, 25, false),
      ],
      series: [
        ...panelSeries(0, { zero: true, mw: mgMW, mwFilled: mgMWFilled, scl: mgSculptor, sclOpen: mgSculptorOpen, car: mgCarina, carOpen: mgCarinaOpen, forn: mgFornax, sag: mgSagittarius, err: mgErrorBar }),
        ...panelSeries(1, { zero: false, mw: caMW, mwFilled: caMWFilled, scl: caSculptor, sclOpen: caSculptorOpen, car: caCarina, carOpen: caCarinaOpen, forn: caFornax, sag: caSagittarius, sagOpen: caSagittariusOpen, err: caErrorBar }),
      ],
      graphic,
    };
    chart.setOption(option);
    return () => chart.dispose();
  }, []);
  return (
    <div style={{ position: "absolute", left: 0, top: 0, width: 1574, height: 1092, overflow: "hidden", background: "#fff" }}>
      <div ref={ref} style={{ position: "absolute", left: 0, top: 0, width: 1600, height: 1092 }} />
    </div>
  );
}
